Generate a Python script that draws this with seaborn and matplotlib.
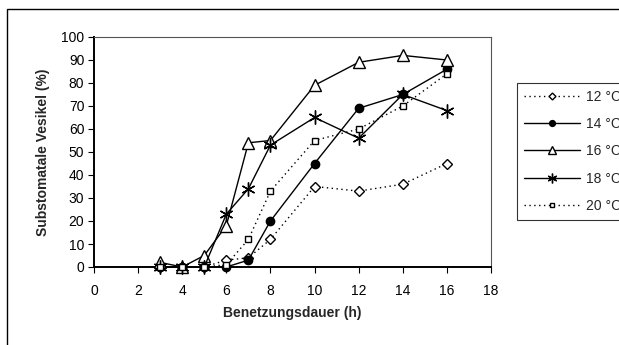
import matplotlib
matplotlib.use("Agg")
import matplotlib.pyplot as plt
from matplotlib.patches import Rectangle
import seaborn as sns
import pandas as pd

sns.set_style("ticks")
plt.rcParams["font.family"] = ["Liberation Sans", "DejaVu Sans"]

hours = [3, 4, 5, 6, 7, 8, 10, 12, 14, 16]
temp_labels = ["12 °C", "14 °C", "16 °C", "18 °C", "20 °C"]
vals_12 = [0, 0, 0, 3, 4, 12, 35, 33, 36, 45]
vals_14 = [0, 0, 0, 0, 3, 20, 45, 69, 75, 86]
vals_16 = [2, 0, 5, 18, 54, 55, 79, 89, 92, 90]
vals_18 = [0, 0, 0, 23, 34, 53, 65, 56, 75, 68]
vals_20 = [0, 0, 0, 1, 12, 33, 55, 60, 70, 84]
x_ticks = list(range(0, 19, 2))
y_ticks = list(range(0, 101, 10))

frames = []
for lab, v in zip(temp_labels, [vals_12, vals_14, vals_16, vals_18, vals_20]):
    frames.append(pd.DataFrame({"Stunden": hours, "Vesikel": v, "Temperatur": lab}))
df = pd.concat(frames, ignore_index=True)

styles = {
    "12 °C": dict(linestyle=(0, (1, 2.5)), marker="D", markersize=5, mfc="white"),
    "14 °C": dict(linestyle="-", marker="o", markersize=6, mfc="black"),
    "16 °C": dict(linestyle="-", marker="^", markersize=8, mfc="white"),
    "18 °C": dict(linestyle="-", marker=(6, 2, 0), markersize=10, mfc="black"),
    "20 °C": dict(linestyle=(0, (1, 2.5)), marker="s", markersize=5, mfc="white"),
}

fig = plt.figure(figsize=(6.19, 3.45), dpi=100)
ax = fig.add_axes([94 / 619, 1 - 267 / 345, (491 - 94) / 619, (267 - 37) / 345])

for lab in temp_labels:
    st = styles[lab]
    sns.lineplot(
        data=df[df["Temperatur"] == lab], x="Stunden", y="Vesikel", ax=ax,
        color="black", linewidth=1.0, linestyle=st["linestyle"],
        marker=st["marker"], markersize=st["markersize"],
        markerfacecolor=st["mfc"], markeredgecolor="black", markeredgewidth=1.0,
        label=lab, legend=False, clip_on=False, zorder=3,
    )

ax.set_xlim(0, 18)
ax.set_ylim(0, 100)
ax.set_xticks(x_ticks)
ax.set_yticks(y_ticks)
ax.tick_params(axis="both", direction="out", length=4, width=0.8, labelsize=10,
               colors="black", pad=3)
ax.tick_params(axis="x", pad=8)
ax.set_xlabel("Benetzungsdauer (h)", fontsize=10, fontweight="bold", labelpad=6)
ax.set_ylabel("Substomatale Vesikel (%)", fontsize=10, fontweight="bold", labelpad=8)

for side in ["left", "bottom"]:
    ax.spines[side].set_color("black")
    ax.spines[side].set_linewidth(1.4)
for side in ["top", "right"]:
    ax.spines[side].set_visible(True)
    ax.spines[side].set_color("#555555")
    ax.spines[side].set_linewidth(0.8)

handles, labels = ax.get_legend_handles_labels()
leg = fig.legend(
    handles, labels, loc="upper left",
    bbox_to_anchor=(517 / 619, 1 - 83 / 345), bbox_transform=fig.transFigure,
    frameon=True, fancybox=False, edgecolor="black", fontsize=10,
    handlelength=4.0, handletextpad=0.5, labelspacing=0.95,
    borderpad=0.5, borderaxespad=0.0, markerscale=0.7,
)
leg.get_frame().set_linewidth(0.8)

# outer chart frame
fig.patches.append(Rectangle((7 / 619, -0.1), 1.2, 1.1 - 9 / 345,
                             transform=fig.transFigure, fill=False,
                             edgecolor="black", linewidth=1.0))

fig.savefig("out.png", dpi=100)
